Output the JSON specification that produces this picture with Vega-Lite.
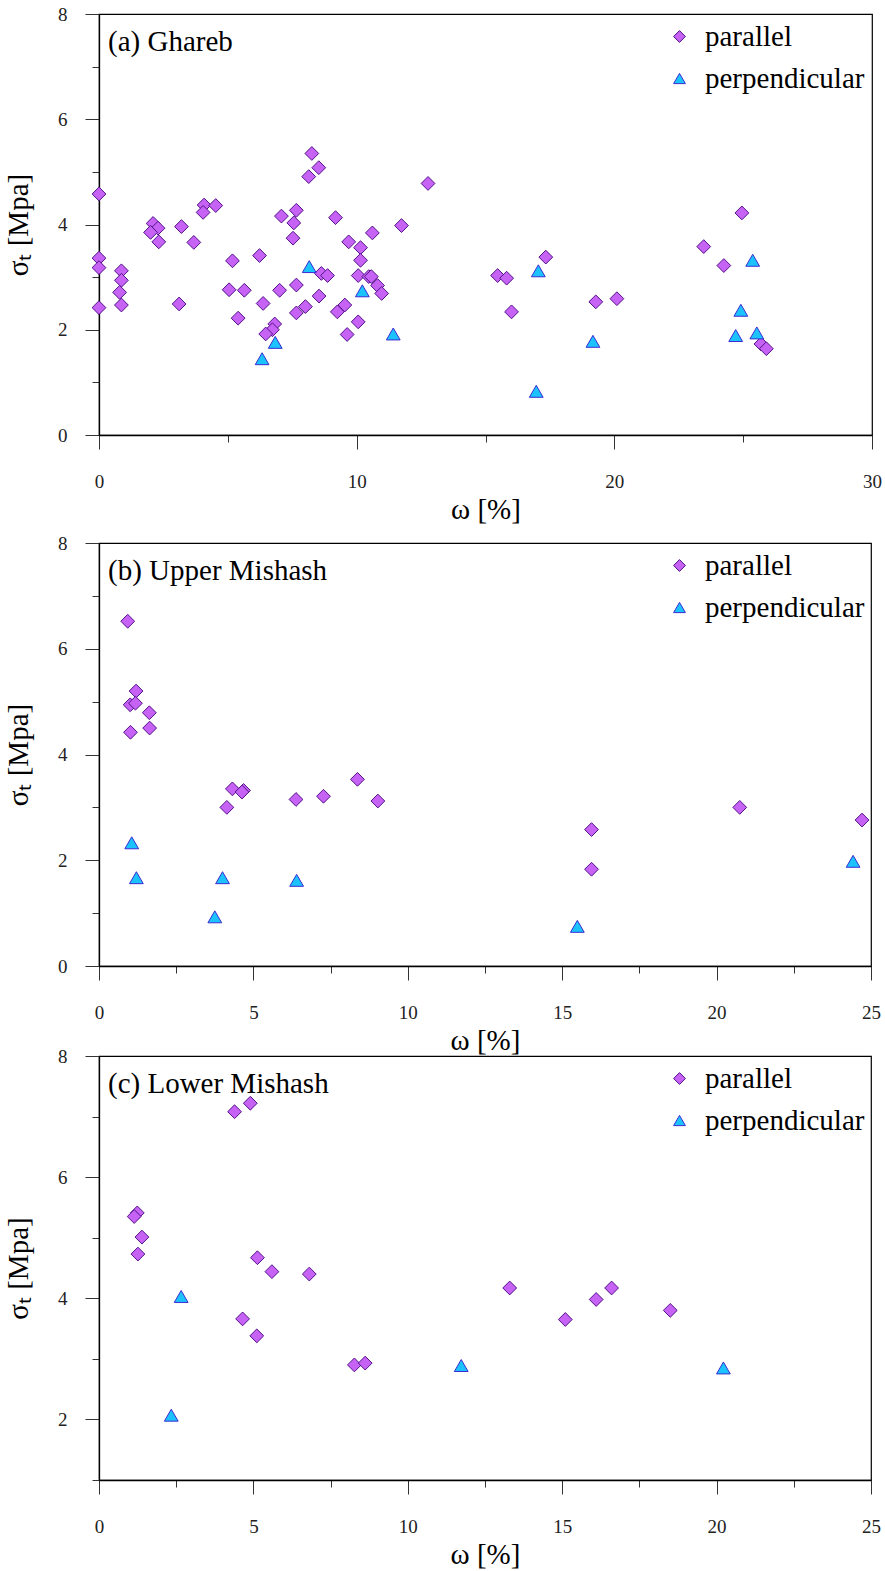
{
  "$schema": "https://vega.github.io/schema/vega-lite/v6.json",
  "background": "white",
  "padding": {"left": 3, "top": 4, "right": 5, "bottom": 5},
  "spacing": -24,
  "datasets": {
    "a": [
      {"w":0,"s":4.58,"type":"parallel"},{"w":0,"s":3.36,"type":"parallel"},{"w":0,"s":3.18,"type":"parallel"},{"w":0,"s":2.42,"type":"parallel"},
      {"w":0.87,"s":3.12,"type":"parallel"},{"w":0.87,"s":2.94,"type":"parallel"},{"w":0.8,"s":2.71,"type":"parallel"},{"w":0.87,"s":2.47,"type":"parallel"},
      {"w":2.1,"s":4.02,"type":"parallel"},{"w":2.29,"s":3.93,"type":"parallel"},{"w":2.0,"s":3.85,"type":"parallel"},{"w":2.32,"s":3.67,"type":"parallel"},
      {"w":3.2,"s":3.96,"type":"parallel"},{"w":3.11,"s":2.49,"type":"parallel"},{"w":3.68,"s":3.66,"type":"parallel"},
      {"w":4.08,"s":4.37,"type":"parallel"},{"w":4.04,"s":4.23,"type":"parallel"},{"w":4.53,"s":4.36,"type":"parallel"},
      {"w":5.18,"s":3.31,"type":"parallel"},{"w":5.05,"s":2.76,"type":"parallel"},{"w":5.64,"s":2.75,"type":"parallel"},{"w":5.4,"s":2.22,"type":"parallel"},
      {"w":6.23,"s":3.41,"type":"parallel"},{"w":6.37,"s":2.5,"type":"parallel"},{"w":7.08,"s":4.16,"type":"parallel"},{"w":7.01,"s":2.75,"type":"parallel"},
      {"w":6.82,"s":2.11,"type":"parallel"},{"w":6.73,"s":2.0,"type":"parallel"},{"w":6.47,"s":1.92,"type":"parallel"},
      {"w":7.66,"s":4.27,"type":"parallel"},{"w":7.56,"s":4.03,"type":"parallel"},{"w":7.53,"s":3.74,"type":"parallel"},{"w":7.66,"s":2.85,"type":"parallel"},{"w":7.66,"s":2.32,"type":"parallel"},
      {"w":8.26,"s":5.35,"type":"parallel"},{"w":8.53,"s":5.08,"type":"parallel"},{"w":8.14,"s":4.91,"type":"parallel"},{"w":12.77,"s":4.78,"type":"parallel"},
      {"w":9.18,"s":4.13,"type":"parallel"},{"w":11.74,"s":3.98,"type":"parallel"},{"w":10.61,"s":3.84,"type":"parallel"},{"w":9.69,"s":3.67,"type":"parallel"},
      {"w":10.15,"s":3.56,"type":"parallel"},{"w":10.15,"s":3.32,"type":"parallel"},
      {"w":8.63,"s":3.07,"type":"parallel"},{"w":8.87,"s":3.03,"type":"parallel"},{"w":10.06,"s":3.03,"type":"parallel"},{"w":10.47,"s":3.01,"type":"parallel"},
      {"w":10.57,"s":3.01,"type":"parallel"},{"w":10.81,"s":2.84,"type":"parallel"},{"w":10.97,"s":2.69,"type":"parallel"},
      {"w":8.54,"s":2.64,"type":"parallel"},{"w":8.01,"s":2.44,"type":"parallel"},{"w":9.54,"s":2.47,"type":"parallel"},{"w":9.25,"s":2.34,"type":"parallel"},
      {"w":10.06,"s":2.15,"type":"parallel"},{"w":9.63,"s":1.91,"type":"parallel"},
      {"w":15.47,"s":3.03,"type":"parallel"},{"w":15.82,"s":2.98,"type":"parallel"},{"w":17.34,"s":3.38,"type":"parallel"},{"w":16.01,"s":2.34,"type":"parallel"},
      {"w":19.28,"s":2.53,"type":"parallel"},{"w":20.1,"s":2.59,"type":"parallel"},{"w":23.47,"s":3.58,"type":"parallel"},{"w":24.25,"s":3.22,"type":"parallel"},
      {"w":24.95,"s":4.22,"type":"parallel"},{"w":25.69,"s":1.73,"type":"parallel"},{"w":25.9,"s":1.64,"type":"parallel"},
      {"w":6.84,"s":1.76,"type":"perpendicular"},{"w":6.33,"s":1.45,"type":"perpendicular"},{"w":8.16,"s":3.2,"type":"perpendicular"},
      {"w":10.22,"s":2.74,"type":"perpendicular"},{"w":11.42,"s":1.92,"type":"perpendicular"},{"w":17.05,"s":3.12,"type":"perpendicular"},
      {"w":16.97,"s":0.83,"type":"perpendicular"},{"w":19.17,"s":1.78,"type":"perpendicular"},{"w":25.37,"s":3.32,"type":"perpendicular"},
      {"w":24.91,"s":2.37,"type":"perpendicular"},{"w":24.71,"s":1.89,"type":"perpendicular"},{"w":25.53,"s":1.94,"type":"perpendicular"}
    ],
    "b": [
      {"w":0.93,"s":6.52,"type":"parallel"},{"w":1.2,"s":5.2,"type":"parallel"},{"w":1.01,"s":4.94,"type":"parallel"},{"w":1.18,"s":4.97,"type":"parallel"},
      {"w":1.63,"s":4.79,"type":"parallel"},{"w":1.64,"s":4.5,"type":"parallel"},{"w":1.02,"s":4.42,"type":"parallel"},
      {"w":4.32,"s":3.35,"type":"parallel"},{"w":4.68,"s":3.32,"type":"parallel"},{"w":4.63,"s":3.29,"type":"parallel"},{"w":4.14,"s":3.0,"type":"parallel"},
      {"w":6.38,"s":3.15,"type":"parallel"},{"w":7.27,"s":3.21,"type":"parallel"},{"w":8.37,"s":3.53,"type":"parallel"},{"w":9.03,"s":3.12,"type":"parallel"},
      {"w":15.95,"s":2.58,"type":"parallel"},{"w":15.95,"s":1.83,"type":"parallel"},{"w":20.75,"s":3.0,"type":"parallel"},{"w":24.71,"s":2.76,"type":"parallel"},
      {"w":1.06,"s":2.33,"type":"perpendicular"},{"w":1.21,"s":1.67,"type":"perpendicular"},{"w":4.0,"s":1.67,"type":"perpendicular"},
      {"w":6.4,"s":1.62,"type":"perpendicular"},{"w":3.75,"s":0.93,"type":"perpendicular"},{"w":15.49,"s":0.75,"type":"perpendicular"},
      {"w":24.42,"s":1.98,"type":"perpendicular"}
    ],
    "c": [
      {"w":4.39,"s":7.08,"type":"parallel"},{"w":4.9,"s":7.22,"type":"parallel"},{"w":1.24,"s":5.41,"type":"parallel"},{"w":1.14,"s":5.35,"type":"parallel"},
      {"w":1.39,"s":5.01,"type":"parallel"},{"w":1.26,"s":4.73,"type":"parallel"},{"w":5.13,"s":4.67,"type":"parallel"},{"w":5.6,"s":4.44,"type":"parallel"},
      {"w":6.81,"s":4.4,"type":"parallel"},{"w":4.65,"s":3.66,"type":"parallel"},{"w":5.11,"s":3.38,"type":"parallel"},{"w":8.27,"s":2.9,"type":"parallel"},
      {"w":8.62,"s":2.93,"type":"parallel"},{"w":13.3,"s":4.17,"type":"parallel"},{"w":15.1,"s":3.65,"type":"parallel"},{"w":16.1,"s":3.98,"type":"parallel"},
      {"w":16.6,"s":4.17,"type":"parallel"},{"w":18.5,"s":3.8,"type":"parallel"},
      {"w":2.66,"s":4.03,"type":"perpendicular"},{"w":2.34,"s":2.07,"type":"perpendicular"},{"w":11.73,"s":2.89,"type":"perpendicular"},
      {"w":20.22,"s":2.85,"type":"perpendicular"}
    ]
  },
  "vconcat": [
    {
      "width": 773, "height": 421,
      "title": {"text": "(a) Ghareb", "anchor": "start", "frame": "group", "offset": -40, "dx": 9, "dy": 35, "baseline": "alphabetic"},
      "data": {"name": "a"},
      "mark": {"type": "point", "filled": true, "opacity": 1, "strokeWidth": 1, "size": 190},
      "encoding": {
        "x": {"field": "w", "type": "quantitative", "scale": {"domain": [0, 30], "nice": false, "zero": false},
          "axis": {"title": ["ω [%]", ""], "values": [0,5,10,15,20,25,30], "labelExpr": "datum.value % 10 ? '' : datum.label",
            "tickSize": {"condition": {"test": "datum.value % 10 !== 0", "value": 7}, "value": 14}}},
        "y": {"field": "s", "type": "quantitative", "scale": {"domain": [0, 8], "nice": false, "zero": false},
          "axis": {"title": "σₜ [Mpa]", "values": [0,1,2,3,4,5,6,7,8], "labelExpr": "datum.value % 2 ? '' : datum.label",
            "tickSize": {"condition": {"test": "datum.value % 2 !== 0", "value": 7}, "value": 14}}},
        "fill": {"field": "type", "type": "nominal", "scale": {"domain": ["parallel", "perpendicular"], "range": ["#c662f4", "#1cc2fb"]}, "legend": {"legendX": 566, "legendY": 8}},
        "stroke": {"field": "type", "type": "nominal", "scale": {"domain": ["parallel", "perpendicular"], "range": ["#52128a", "#3b2bd3"]}, "legend": {"legendX": 566, "legendY": 8}},
        "shape": {"field": "type", "type": "nominal", "scale": {"domain": ["parallel", "perpendicular"], "range": ["diamond", "triangle-up"]}, "legend": {"legendX": 566, "legendY": 8}}
      }
    },
    {
      "width": 772, "height": 423,
      "title": {"text": "(b) Upper Mishash", "anchor": "start", "frame": "group", "offset": -40, "dx": 9, "dy": 35, "baseline": "alphabetic"},
      "data": {"name": "b"},
      "mark": {"type": "point", "filled": true, "opacity": 1, "strokeWidth": 1, "size": 190},
      "encoding": {
        "x": {"field": "w", "type": "quantitative", "scale": {"domain": [0, 25], "nice": false, "zero": false},
          "axis": {"title": "ω [%]", "values": [0,2.5,5,7.5,10,12.5,15,17.5,20,22.5,25], "labelExpr": "datum.value % 5 ? '' : datum.label",
            "tickSize": {"condition": {"test": "datum.value % 5 !== 0", "value": 7}, "value": 14}}},
        "y": {"field": "s", "type": "quantitative", "scale": {"domain": [0, 8], "nice": false, "zero": false},
          "axis": {"title": "σₜ [Mpa]", "values": [0,1,2,3,4,5,6,7,8], "labelExpr": "datum.value % 2 ? '' : datum.label",
            "tickSize": {"condition": {"test": "datum.value % 2 !== 0", "value": 7}, "value": 14}}},
        "fill": {"field": "type", "type": "nominal", "scale": {"domain": ["parallel", "perpendicular"], "range": ["#c662f4", "#1cc2fb"]}, "legend": {"legendX": 566, "legendY": 8}},
        "stroke": {"field": "type", "type": "nominal", "scale": {"domain": ["parallel", "perpendicular"], "range": ["#52128a", "#3b2bd3"]}, "legend": {"legendX": 566, "legendY": 8}},
        "shape": {"field": "type", "type": "nominal", "scale": {"domain": ["parallel", "perpendicular"], "range": ["diamond", "triangle-up"]}, "legend": {"legendX": 566, "legendY": 8}}
      }
    },
    {
      "width": 772, "height": 424,
      "title": {"text": "(c) Lower Mishash", "anchor": "start", "frame": "group", "offset": -40, "dx": 9, "dy": 35, "baseline": "alphabetic"},
      "data": {"name": "c"},
      "mark": {"type": "point", "filled": true, "opacity": 1, "strokeWidth": 1, "size": 190},
      "encoding": {
        "x": {"field": "w", "type": "quantitative", "scale": {"domain": [0, 25], "nice": false, "zero": false},
          "axis": {"title": "ω [%]", "values": [0,2.5,5,7.5,10,12.5,15,17.5,20,22.5,25], "labelExpr": "datum.value % 5 ? '' : datum.label",
            "tickSize": {"condition": {"test": "datum.value % 5 !== 0", "value": 7}, "value": 14}}},
        "y": {"field": "s", "type": "quantitative", "scale": {"domain": [1, 8], "nice": false, "zero": false},
          "axis": {"title": "σₜ [Mpa]", "values": [1,2,3,4,5,6,7,8], "labelExpr": "datum.value % 2 ? '' : datum.label",
            "tickSize": {"condition": {"test": "datum.value % 2 !== 0", "value": 7}, "value": 14}}},
        "fill": {"field": "type", "type": "nominal", "scale": {"domain": ["parallel", "perpendicular"], "range": ["#c662f4", "#1cc2fb"]}, "legend": {"legendX": 566, "legendY": 8}},
        "stroke": {"field": "type", "type": "nominal", "scale": {"domain": ["parallel", "perpendicular"], "range": ["#52128a", "#3b2bd3"]}, "legend": {"legendX": 566, "legendY": 8}},
        "shape": {"field": "type", "type": "nominal", "scale": {"domain": ["parallel", "perpendicular"], "range": ["diamond", "triangle-up"]}, "legend": {"legendX": 566, "legendY": 8}}
      }
    }
  ],
  "resolve": {"scale": {"fill": "independent", "stroke": "independent", "shape": "independent"}, "legend": {"fill": "independent", "stroke": "independent", "shape": "independent"}},
  "config": {
    "view": {"stroke": "black", "strokeWidth": 1.2},
    "style": {"guide-label": {"font": "Liberation Serif"}, "guide-title": {"font": "Liberation Serif"}},
    "axis": {
      "grid": false, "domainColor": "black", "domainWidth": 1.3, "tickColor": "#333", "tickWidth": 1, "tickSize": 14,
      "labelFont": "Liberation Serif", "labelFontSize": 19, "labelColor": "#222", "labelFlush": false, "labelOverlap": false,
      "titleFont": "Liberation Serif", "titleFontSize": 29, "titleFontWeight": "normal", "titleColor": "black"
    },
    "axisX": {"labelPadding": 23, "titlePadding": 4, "titleLineHeight": 18},
    "axisY": {"labelPadding": 18, "titlePadding": 24},
    "legend": {
      "orient": "none", "title": null, "padding": 0, "labelFont": "Liberation Serif", "labelFontSize": 29, "labelColor": "black",
      "symbolSize": 140, "symbolStrokeWidth": 1, "labelOffset": 11, "rowPadding": 12
    },
    "title": {"font": "Liberation Serif", "fontSize": 29, "fontWeight": "normal", "color": "black"}
  }
}
